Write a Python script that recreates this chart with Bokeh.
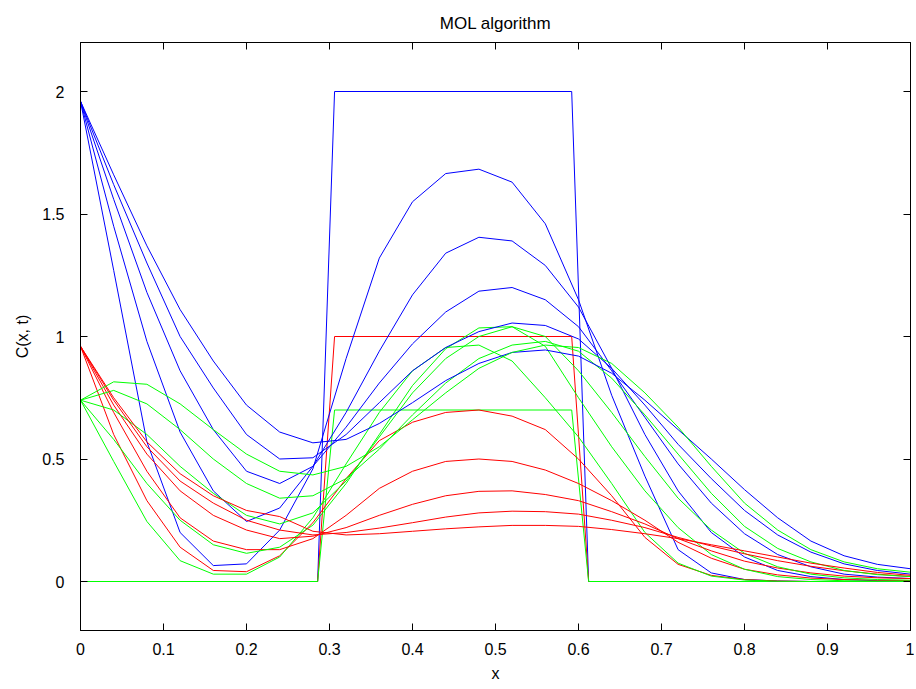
from bokeh.plotting import figure
from bokeh.models import LinearAxis, Range1d, FixedTicker, CustomJSTickFormatter
from bokeh.embed import file_html
from bokeh.resources import INLINE

# ---------------- data ----------------
x_grid = [0.00, 0.04, 0.08, 0.12, 0.16, 0.20, 0.24, 0.28, 0.32, 0.36, 0.40, 0.44, 0.48,
          0.52, 0.56, 0.60, 0.64, 0.68, 0.72, 0.76, 0.80, 0.84, 0.88, 0.92, 0.96, 1.00]
x_step = [0.0, 0.2857, 0.3061, 0.5918, 0.6122, 1.0]

blue_t0 = [0.0, 0.0, 2.0, 2.0, 0.0, 0.0]
red_t0 = [0.0, 0.0, 1.0, 1.0, 0.0, 0.0]
green_t0 = [0.0, 0.0, 0.7, 0.7, 0.0, 0.0]

blue_t1 = [1.96, 1.27, 0.57, 0.20, 0.065, 0.072, 0.21, 0.46, 0.91, 1.32, 1.55, 1.665, 1.683,
           1.63, 1.46, 1.15, 0.76, 0.43, 0.13, 0.035, 0.008, 0.002, 0.0, 0.0, 0.0, 0.0]
blue_t2 = [1.96, 1.45, 0.98, 0.61, 0.37, 0.245, 0.30, 0.47, 0.69, 0.94, 1.17, 1.34, 1.405,
           1.39, 1.29, 1.12, 0.87, 0.60, 0.37, 0.20, 0.10, 0.045, 0.02, 0.008, 0.003, 0.001]
blue_t3 = [1.96, 1.56, 1.18, 0.86, 0.62, 0.45, 0.40, 0.47, 0.63, 0.81, 0.97, 1.10, 1.185,
           1.20, 1.15, 1.04, 0.86, 0.67, 0.48, 0.32, 0.195, 0.11, 0.06, 0.03, 0.018, 0.012]
blue_t4 = [1.96, 1.62, 1.30, 1.00, 0.79, 0.60, 0.50, 0.505, 0.60, 0.73, 0.86, 0.955, 1.02,
           1.055, 1.045, 0.99, 0.87, 0.72, 0.56, 0.42, 0.29, 0.19, 0.12, 0.072, 0.045, 0.03]
blue_t5 = [1.96, 1.66, 1.37, 1.11, 0.90, 0.72, 0.61, 0.566, 0.58, 0.645, 0.73, 0.82, 0.89,
           0.935, 0.945, 0.92, 0.85, 0.74, 0.62, 0.50, 0.375, 0.26, 0.165, 0.105, 0.07, 0.052]

red_t1 = [0.96, 0.60, 0.33, 0.14, 0.045, 0.04, 0.105, 0.24, 0.42, 0.575, 0.65, 0.69, 0.70,
          0.675, 0.62, 0.50, 0.35, 0.18, 0.07, 0.025, 0.008, 0.002, 0.0, 0.0, 0.0, 0.0]
red_t2 = [0.96, 0.69, 0.45, 0.26, 0.165, 0.13, 0.13, 0.175, 0.27, 0.38, 0.45, 0.49, 0.50,
          0.49, 0.455, 0.40, 0.33, 0.25, 0.16, 0.095, 0.05, 0.027, 0.014, 0.008, 0.005, 0.004]
red_t3 = [0.96, 0.72, 0.52, 0.37, 0.27, 0.21, 0.175, 0.185, 0.22, 0.27, 0.315, 0.35, 0.368,
          0.37, 0.355, 0.33, 0.285, 0.235, 0.175, 0.125, 0.083, 0.055, 0.035, 0.022, 0.015, 0.012]
red_t4 = [0.96, 0.74, 0.55, 0.41, 0.32, 0.25, 0.21, 0.19, 0.20, 0.218, 0.24, 0.263, 0.28,
          0.287, 0.285, 0.275, 0.25, 0.22, 0.18, 0.145, 0.113, 0.085, 0.062, 0.044, 0.03, 0.02]
red_t5 = [0.96, 0.75, 0.57, 0.44, 0.35, 0.29, 0.265, 0.205, 0.19, 0.195, 0.205, 0.215, 0.223,
          0.229, 0.229, 0.225, 0.212, 0.195, 0.175, 0.15, 0.125, 0.10, 0.075, 0.055, 0.037, 0.025]

green_t1 = [0.74, 0.49, 0.245, 0.085, 0.03, 0.03, 0.10, 0.26, 0.48, 0.69, 0.86, 0.955, 0.965,
            0.90, 0.75, 0.59, 0.40, 0.20, 0.075, 0.022, 0.006, 0.001, 0.0, 0.0, 0.0, 0.0]
green_t2 = [0.74, 0.58, 0.40, 0.25, 0.15, 0.115, 0.14, 0.23, 0.40, 0.60, 0.80, 0.95, 1.035,
            1.04, 0.96, 0.75, 0.55, 0.37, 0.22, 0.11, 0.05, 0.02, 0.008, 0.003, 0.001, 0.0]
green_t3 = [0.74, 0.70, 0.60, 0.47, 0.36, 0.27, 0.235, 0.28, 0.41, 0.59, 0.77, 0.91, 1.00,
            1.04, 1.00, 0.86, 0.69, 0.51, 0.34, 0.21, 0.115, 0.06, 0.03, 0.015, 0.008, 0.005]
green_t4 = [0.74, 0.78, 0.725, 0.62, 0.50, 0.40, 0.34, 0.35, 0.42, 0.54, 0.68, 0.81, 0.91,
            0.965, 0.98, 0.94, 0.83, 0.68, 0.52, 0.36, 0.225, 0.135, 0.08, 0.045, 0.028, 0.02]
green_t5 = [0.74, 0.815, 0.805, 0.725, 0.62, 0.52, 0.45, 0.435, 0.47, 0.55, 0.66, 0.77, 0.87,
            0.935, 0.965, 0.955, 0.89, 0.77, 0.63, 0.47, 0.32, 0.21, 0.13, 0.08, 0.052, 0.038]

x_ticks = [0, 0.1, 0.2, 0.3, 0.4, 0.5, 0.6, 0.7, 0.8, 0.9, 1]
y_ticks = [0, 0.5, 1, 1.5, 2]

BLUE, RED, GREEN = "#0000ff", "#ff0000", "#00ff00"
FONT = "Liberation Sans"

# ---------------- figure ----------------
p = figure(width=914, height=688, x_range=Range1d(0, 1), y_range=Range1d(-0.2, 2.2),
           output_backend="svg", toolbar_location=None,
           min_border_left=80, min_border_right=4, min_border_top=42, min_border_bottom=58,
           title="MOL algorithm")
p.background_fill_color = "white"
p.border_fill_color = "white"
p.outline_line_color = "black"
p.outline_line_width = 1
p.xgrid.visible = False
p.ygrid.visible = False

p.title.align = "center"
p.title.text_font = FONT
p.title.text_font_size = "17px"
p.title.text_font_style = "normal"
p.title.text_color = "black"
p.title.standoff = 20

fmt = CustomJSTickFormatter(code="return tick.toString();")
blank = CustomJSTickFormatter(code="return '';")

def style_axis(ax, ticks, show_labels):
    ax.ticker = FixedTicker(ticks=ticks)
    ax.major_tick_in = 7
    ax.major_tick_out = 0
    ax.minor_tick_line_color = None
    ax.axis_line_color = "black"
    ax.major_tick_line_color = "black"
    ax.major_label_text_font = FONT
    ax.major_label_text_color = "black"
    if show_labels:
        ax.formatter = fmt
        ax.major_label_text_font_size = "16px"
    else:
        ax.formatter = blank
        ax.major_label_text_font_size = "1px"
        ax.major_label_text_color = None
        ax.major_label_standoff = 0

style_axis(p.xaxis[0], x_ticks, True)
style_axis(p.yaxis[0], y_ticks, True)
p.xaxis[0].major_label_standoff = 12
p.yaxis[0].major_label_standoff = 16
p.xaxis[0].axis_label = "x"
p.yaxis[0].axis_label = "C(x, t)"
for ax in (p.xaxis[0], p.yaxis[0]):
    ax.axis_label_text_font = FONT
    ax.axis_label_text_font_size = "16px"
    ax.axis_label_text_font_style = "normal"
    ax.axis_label_text_color = "black"
p.xaxis[0].axis_label_standoff = 7
p.yaxis[0].axis_label_standoff = 8

top_ax = LinearAxis()
right_ax = LinearAxis()
style_axis(top_ax, x_ticks, False)
style_axis(right_ax, y_ticks, False)
p.add_layout(top_ax, "above")
p.add_layout(right_ax, "right")

# ---------------- curves ----------------
p.line(x_step, blue_t0, line_color=BLUE, line_width=1)
p.line(x_step, red_t0, line_color=RED, line_width=1)
p.line(x_step, green_t0, line_color=GREEN, line_width=1)

for b, r, g in [(blue_t1, red_t1, green_t1), (blue_t2, red_t2, green_t2),
                (blue_t3, red_t3, green_t3), (blue_t4, red_t4, green_t4),
                (blue_t5, red_t5, green_t5)]:
    p.line(x_grid, b, line_color=BLUE, line_width=1)
    p.line(x_grid, r, line_color=RED, line_width=1)
    p.line(x_grid, g, line_color=GREEN, line_width=1)

open("out.html", "w").write(file_html(p, INLINE))
